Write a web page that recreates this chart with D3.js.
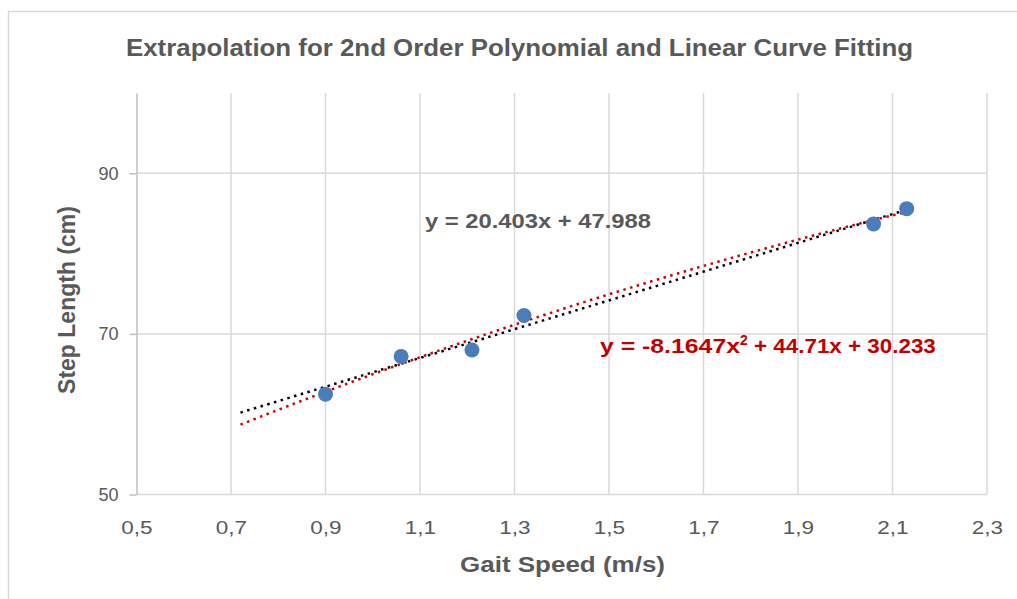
<!DOCTYPE html>
<html>
    <head>
        <style>
         body {
             margin: 0;
             background-color: #ffffff;
         }
         text {
             font-family: "Liberation Sans", Arial, sans-serif;
         }
         .tick text {
             fill: #595959;
             font-size: 18px;
         }
         .grid line {
             stroke: #d9d9d9;
             stroke-width: 1.5;
         }
        </style>
        <script src="https://d3js.org/d3.v7.min.js"></script>
    </head>
    <body>
        <svg id="chart" width="1017" height="599"></svg>
        <script>
         // measured points
         var speed = [0.90, 1.06, 1.21, 1.32, 2.06, 2.13];
         var stepLength = [62.5, 67.2, 68.0, 72.3, 83.7, 85.6];
         var xTicks = [0.5, 0.7, 0.9, 1.1, 1.3, 1.5, 1.7, 1.9, 2.1, 2.3];
         var yTicks = [50, 70, 90];
         var trendStart = 0.72;  // backward extrapolation
         var linearLabel = "y = 20.403x + 47.988";
         var polyLabel = ["y = -8.1647x", "2", " + 44.71x + 30.233"];

         var svg = d3.select("svg");

         var x = d3.scaleLinear().domain([0.5, 2.3]).range([136.5, 987]),
             y = d3.scaleLinear().domain([50, 100]).range([494.5, 93]);

         // chart frame
         svg.append("rect")
            .attr("x", 8.5).attr("y", 11.5)
            .attr("width", 1040).attr("height", 620)
            .attr("fill", "none")
            .attr("stroke", "#d9d9d9")
            .attr("stroke-width", 1.5);

         svg.append("text")
            .attr("x", 126).attr("y", 56)
            .attr("font-size", "23px")
            .attr("font-weight", "bold")
            .attr("fill", "#595959")
            .attr("textLength", 787)
            .attr("lengthAdjust", "spacingAndGlyphs")
            .text("Extrapolation for 2nd Order Polynomial and Linear Curve Fitting");

         // gridlines
         svg.append("g")
            .attr("class", "grid")
            .selectAll("line")
            .data(xTicks.slice(1))
            .enter().append("line")
            .attr("x1", function(d) { return x(d); })
            .attr("x2", function(d) { return x(d); })
            .attr("y1", y(100)).attr("y2", y(50));

         svg.append("g")
            .attr("class", "grid")
            .selectAll("line")
            .data(yTicks)
            .enter().append("line")
            .attr("x1", x(0.5)).attr("x2", x(2.3))
            .attr("y1", function(d) { return y(d); })
            .attr("y2", function(d) { return y(d); });

         // axes
         var xAxis = svg.append("g")
            .attr("transform", "translate(0," + y(50) + ")")
            .call(d3.axisBottom(x).tickValues(xTicks).tickSize(0).tickPadding(27)
                  .tickFormat(function(d) { return d3.format(".1f")(d).replace(".", ","); }));
         xAxis.select(".domain").remove();
         xAxis.selectAll(".tick text").attr("transform", "scale(1.25,1)");

         var yAxis = svg.append("g")
            .attr("transform", "translate(" + x(0.5) + ",0)")
            .call(d3.axisLeft(y).tickValues(yTicks).tickSize(7).tickPadding(11).tickSizeOuter(0));
         yAxis.select(".domain").attr("stroke", "#bfbfbf").attr("stroke-width", 1.5);
         yAxis.selectAll(".tick line").attr("stroke", "#bfbfbf").attr("stroke-width", 1.5);

         svg.append("text")
            .attr("x", 460).attr("y", 572)
            .attr("font-size", "22px")
            .attr("font-weight", "bold")
            .attr("fill", "#595959")
            .attr("textLength", 205)
            .attr("lengthAdjust", "spacingAndGlyphs")
            .text("Gait Speed (m/s)");

         svg.append("text")
            .attr("transform", "translate(75,300) rotate(-90)")
            .attr("text-anchor", "middle")
            .attr("font-size", "23px")
            .attr("font-weight", "bold")
            .attr("fill", "#595959")
            .text("Step Length (cm)");

         // least squares fits of the measured points
         function polyFit(xs, ys, order) {
             var n = order + 1, A = [], b = [];
             for (var i = 0; i < n; i++) {
                 A.push([]);
                 for (var j = 0; j < n; j++) {
                     A[i].push(d3.sum(xs, function(v) { return Math.pow(v, i + j); }));
                 }
                 b.push(d3.sum(xs, function(v, k) { return ys[k] * Math.pow(v, i); }));
             }
             for (var c = 0; c < n; c++) {
                 for (var r = c + 1; r < n; r++) {
                     var f = A[r][c] / A[c][c];
                     for (var k = c; k < n; k++) A[r][k] -= f * A[c][k];
                     b[r] -= f * b[c];
                 }
             }
             var coef = new Array(n);
             for (var r2 = n - 1; r2 >= 0; r2--) {
                 var s = b[r2];
                 for (var k2 = r2 + 1; k2 < n; k2++) s -= A[r2][k2] * coef[k2];
                 coef[r2] = s / A[r2][r2];
             }
             return function(v) {
                 return d3.sum(coef, function(cf, p) { return cf * Math.pow(v, p); });
             };
         }

         var xEnd = d3.max(speed);
         var trendX = d3.range(0, 41).map(function(i) { return trendStart + (xEnd - trendStart) * i / 40; });
         var lin = polyFit(speed, stepLength, 1),
             quad = polyFit(speed, stepLength, 2);

         var line = d3.line()
             .x(function(d) { return x(d[0]); })
             .y(function(d) { return y(d[1]); });

         svg.append("path")
            .datum(trendX.map(function(v) { return [v, quad(v)]; }))
            .attr("d", line)
            .attr("fill", "none")
            .attr("stroke", "#d00000")
            .attr("stroke-width", 2.5)
            .attr("stroke-dasharray", "2.5,4.5");

         svg.append("path")
            .datum(trendX.map(function(v) { return [v, lin(v)]; }))
            .attr("d", line)
            .attr("fill", "none")
            .attr("stroke", "#000000")
            .attr("stroke-width", 2.5)
            .attr("stroke-dasharray", "2.5,4.5");

         svg.selectAll(".dot")
            .data(speed)
            .enter().append("circle")
            .attr("class", "dot")
            .attr("cx", function(d) { return x(d); })
            .attr("cy", function(d, i) { return y(stepLength[i]); })
            .attr("r", 7.5)
            .attr("fill", "#4a7ebb");

         svg.append("text")
            .attr("x", 425).attr("y", 228)
            .attr("font-size", "21px")
            .attr("font-weight", "bold")
            .attr("fill", "#595959")
            .attr("textLength", 226)
            .attr("lengthAdjust", "spacingAndGlyphs")
            .text(linearLabel);

         var pl = svg.append("text")
            .attr("x", 600).attr("y", 353)
            .attr("font-size", "21px")
            .attr("font-weight", "bold")
            .attr("fill", "#c00000");
         pl.append("tspan").attr("textLength", 140).attr("lengthAdjust", "spacingAndGlyphs").text(polyLabel[0]);
         pl.append("tspan").attr("dy", -8).attr("font-size", "14px").text(polyLabel[1]);
         pl.append("tspan").attr("dy", 8).attr("textLength", 188).attr("lengthAdjust", "spacingAndGlyphs").text(polyLabel[2]);
        </script>
    </body>
</html>
